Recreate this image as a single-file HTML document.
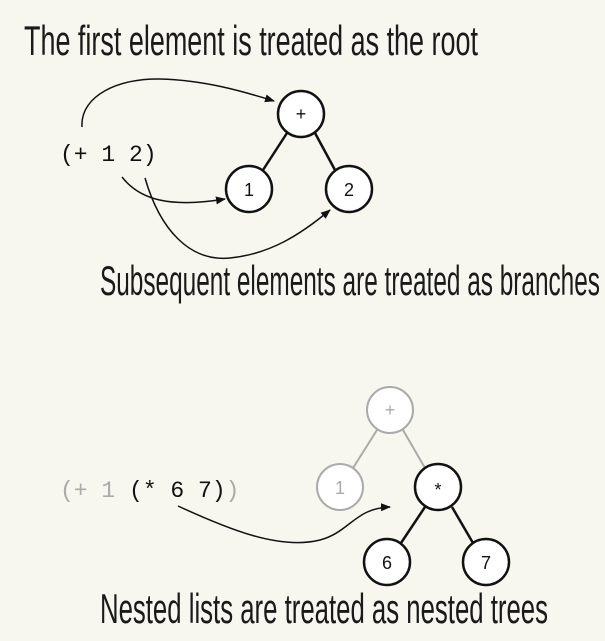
<!DOCTYPE html>
<html><head><meta charset="utf-8"><style>
html,body{margin:0;padding:0;background:#f7f7f0;}
svg{display:block}
.hand{font-family:"Liberation Sans Narrow","Liberation Sans",sans-serif;font-size:30px;fill:#1a1a1a;}
.code{font-family:"Liberation Mono",monospace;font-size:23px;}
.nl{font-family:"Liberation Sans",sans-serif;font-size:18px;text-anchor:middle;}
</style></head><body>
<svg width="605" height="641" viewBox="0 0 605 641">
<defs><marker id="ah" markerWidth="10" markerHeight="8" refX="9" refY="4" orient="auto" markerUnits="userSpaceOnUse"><path d="M0,0 L10,4 L0,8 Z" fill="#111"/></marker></defs>
<rect width="605" height="641" fill="#f7f7f0"/>
<text class="hand" x="24" y="55" textLength="454" lengthAdjust="spacingAndGlyphs" transform="translate(0,-22) scale(1,1.4)">The first element is treated as the root</text>
<text class="code" x="60" y="161" fill="#111">(+ 1 2)</text>
<g fill="none" stroke="#111" stroke-width="1.5">
<path d="M82,127 C80,95 120,78 160,79 C205,80 245,92 274,101" marker-end="url(#ah)"/>
<path d="M122,177 C140,200 170,208 225,199" marker-end="url(#ah)"/>
<path d="M145,178 C160,230 190,262 230,258 C270,254 300,235 330,210" marker-end="url(#ah)"/>
</g>
<g stroke="#111" stroke-width="2.5">
<line x1="287" y1="133" x2="263" y2="170"/><line x1="315" y1="133" x2="335" y2="170"/>
<circle cx="301" cy="114" r="23" fill="#fff"/>
<circle cx="249" cy="189" r="23" fill="#fff"/>
<circle cx="349" cy="189" r="23" fill="#fff"/>
</g>
<text class="nl" x="301" y="120" fill="#111">+</text>
<text class="nl" x="249" y="196" fill="#111">1</text>
<text class="nl" x="349" y="196" fill="#111">2</text>
<text class="hand" x="100" y="295" textLength="500" lengthAdjust="spacingAndGlyphs" transform="translate(0,-118) scale(1,1.4)">Subsequent elements are treated as branches</text>
<text class="code" x="60" y="497"><tspan fill="#aaa">(+ 1 </tspan><tspan fill="#111">(* 6 7)</tspan><tspan fill="#aaa">)</tspan></text>
<path d="M178,506 C230,530 280,550 320,540 C350,532 355,508 390,507" fill="none" stroke="#111" stroke-width="1.5" marker-end="url(#ah)"/>
<g stroke="#aaa" stroke-width="2">
<line x1="377" y1="430" x2="353" y2="468"/><line x1="403" y1="430" x2="425" y2="468"/>
<circle cx="390" cy="410" r="23" fill="#fff"/>
<circle cx="340" cy="487" r="23" fill="#fff"/>
</g>
<g stroke="#111" stroke-width="2.5">
<line x1="425" y1="507" x2="401" y2="543"/><line x1="452" y1="507" x2="473" y2="543"/>
<circle cx="438" cy="487" r="23" fill="#fff"/>
<circle cx="387" cy="562" r="23" fill="#fff"/>
<circle cx="486" cy="562" r="23" fill="#fff"/>
</g>
<text class="nl" x="390" y="416" fill="#aaa">+</text>
<text class="nl" x="340" y="494" fill="#aaa">1</text>
<text class="nl" x="438" y="496" fill="#111">*</text>
<text class="nl" x="387" y="569" fill="#111">6</text>
<text class="nl" x="486" y="569" fill="#111">7</text>
<text class="hand" x="100" y="622" textLength="448" lengthAdjust="spacingAndGlyphs" transform="translate(0,-248) scale(1,1.4)">Nested lists are treated as nested trees</text>
</svg>
</body></html>
